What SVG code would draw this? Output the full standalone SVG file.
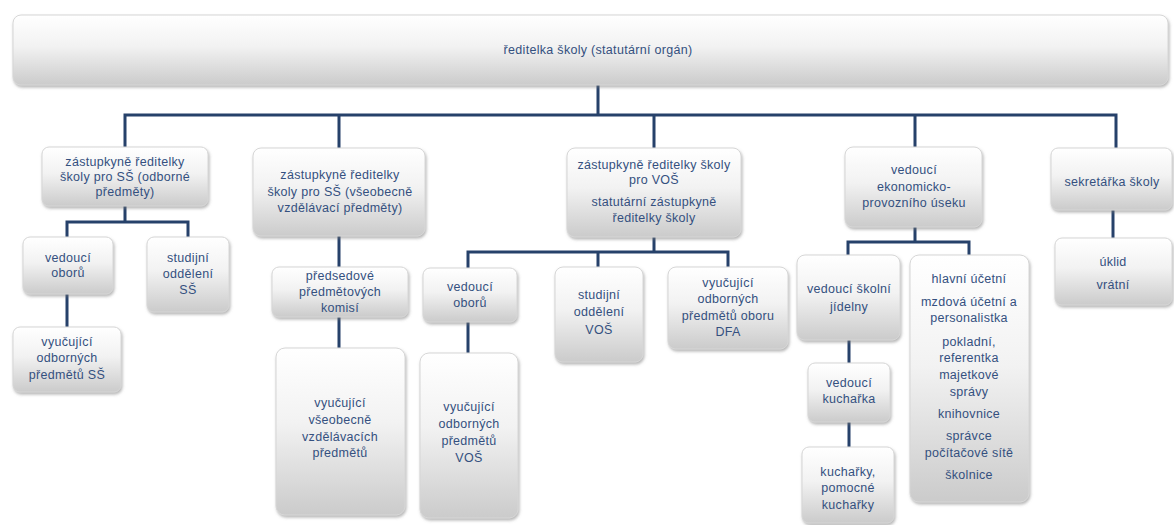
<svg xmlns="http://www.w3.org/2000/svg" width="1174" height="525" viewBox="0 0 1174 525">
<defs>
<linearGradient id="g" x1="0" y1="0" x2="0" y2="1">
<stop offset="0" stop-color="#ffffff"/>
<stop offset="0.45" stop-color="#f2f2f2"/>
<stop offset="1" stop-color="#cbcbcb"/>
</linearGradient>
<filter id="sh" x="-10%" y="-10%" width="120%" height="130%">
<feDropShadow dx="1" dy="2" stdDeviation="1.5" flood-color="#7a7a7a" flood-opacity="0.55"/>
</filter>
</defs>
<style>
.box{fill:url(#g);stroke:#d6d6d6;stroke-width:1;filter:url(#sh)}
.t{font-family:"Liberation Sans",Arial,sans-serif;font-size:12.5px;letter-spacing:0.3px;fill:#34507f;text-anchor:middle;dominant-baseline:central}
.c{stroke:#26416a;stroke-width:3;fill:none;stroke-linecap:square}
</style>
<rect width="1174" height="525" fill="#ffffff"/>
<g id="connectors">
<path class="c" d="M598 86V115M125 115H1116M125 115V146M339 115V147M654 115V147M915 115V146M1116 115V147"/>
<path class="c" d="M125 207V222M67 222H188M67 222V236M188 222V236M67 295V326"/>
<path class="c" d="M339 237V266M339 318V347"/>
<path class="c" d="M654 238V252M468 252H728M468 252V267M598 252V266M728 252V266M468 323V352"/>
<path class="c" d="M915 228V242M848 242H969M848 242V254M969 242V254M849 341V362M849 423V446"/>
<path class="c" d="M1113 211V237"/>
</g>
<g id="root">
<rect class="box" x="13" y="15" width="1155" height="70" rx="8"/>
<text class="t" x="598" y="50">ředitelka školy (statutární orgán)</text>
</g>
<g id="n1">
<rect class="box" x="42" y="147" width="166" height="59" rx="7"/>
<text class="t" x="125" y="162">zástupkyně ředitelky</text>
<text class="t" x="125" y="177">školy pro SŠ (odborné</text>
<text class="t" x="125" y="192">předměty)</text>
</g>
<g id="n1a">
<rect class="box" x="23" y="237" width="90" height="57" rx="7"/>
<text class="t" x="68" y="258">vedoucí</text>
<text class="t" x="68" y="273">oborů</text>
</g>
<g id="n1b">
<rect class="box" x="147" y="237" width="82" height="75" rx="7"/>
<text class="t" x="188" y="258">studijní</text>
<text class="t" x="188" y="274">oddělení</text>
<text class="t" x="188" y="290">SŠ</text>
</g>
<g id="n1c">
<rect class="box" x="13" y="327" width="108" height="65" rx="7"/>
<text class="t" x="67" y="342">vyučující</text>
<text class="t" x="67" y="358">odborných</text>
<text class="t" x="67" y="375">předmětů SŠ</text>
</g>
<g id="n2">
<rect class="box" x="253" y="148" width="172" height="88" rx="8"/>
<text class="t" x="340" y="175">zástupkyně ředitelky</text>
<text class="t" x="340" y="192">školy pro SŠ (všeobecně</text>
<text class="t" x="340" y="208">vzdělávací předměty)</text>
</g>
<g id="n2a">
<rect class="box" x="272" y="267" width="136" height="50" rx="7"/>
<text class="t" x="340" y="276">předsedové</text>
<text class="t" x="340" y="292">předmětových</text>
<text class="t" x="340" y="308">komisí</text>
</g>
<g id="n2b">
<rect class="box" x="276" y="348" width="129" height="167" rx="9"/>
<text class="t" x="340" y="403">vyučující</text>
<text class="t" x="340" y="420">všeobecně</text>
<text class="t" x="340" y="437">vzdělávacích</text>
<text class="t" x="340" y="453">předmětů</text>
</g>
<g id="n3">
<rect class="box" x="567" y="148" width="174" height="89" rx="8"/>
<text class="t" x="654" y="165">zástupkyně ředitelky školy</text>
<text class="t" x="654" y="180">pro VOŠ</text>
<text class="t" x="654" y="202">statutární zástupkyně</text>
<text class="t" x="654" y="218">ředitelky školy</text>
</g>
<g id="n3a">
<rect class="box" x="423" y="268" width="94" height="54" rx="7"/>
<text class="t" x="470" y="287">vedoucí</text>
<text class="t" x="470" y="303">oborů</text>
</g>
<g id="n3b">
<rect class="box" x="420" y="353" width="98" height="165" rx="9"/>
<text class="t" x="469" y="407">vyučující</text>
<text class="t" x="469" y="424">odborných</text>
<text class="t" x="469" y="441">předmětů</text>
<text class="t" x="469" y="458">VOŠ</text>
</g>
<g id="n3c">
<rect class="box" x="555" y="267" width="88" height="95" rx="8"/>
<text class="t" x="599" y="295">studijní</text>
<text class="t" x="599" y="312">oddělení</text>
<text class="t" x="599" y="330">VOŠ</text>
</g>
<g id="n3d">
<rect class="box" x="668" y="267" width="120" height="82" rx="8"/>
<text class="t" x="728" y="283">vyučující</text>
<text class="t" x="728" y="299">odborných</text>
<text class="t" x="728" y="316">předmětů oboru</text>
<text class="t" x="728" y="332">DFA</text>
</g>
<g id="n4">
<rect class="box" x="845" y="147" width="137" height="80" rx="8"/>
<text class="t" x="914" y="170">vedoucí</text>
<text class="t" x="914" y="187">ekonomicko-</text>
<text class="t" x="914" y="203">provozního úseku</text>
</g>
<g id="n4a">
<rect class="box" x="797" y="255" width="103" height="85" rx="8"/>
<text class="t" x="849" y="289">vedoucí školní</text>
<text class="t" x="849" y="307">jídelny</text>
</g>
<g id="n4a1">
<rect class="box" x="808" y="363" width="82" height="59" rx="7"/>
<text class="t" x="849" y="383">vedoucí</text>
<text class="t" x="849" y="399">kuchařka</text>
</g>
<g id="n4a2">
<rect class="box" x="802" y="447" width="92" height="76" rx="7"/>
<text class="t" x="848" y="472">kuchařky,</text>
<text class="t" x="848" y="488">pomocné</text>
<text class="t" x="848" y="505">kuchařky</text>
</g>
<g id="n4b">
<rect class="box" x="910" y="255" width="119" height="247" rx="9"/>
<text class="t" x="969" y="279">hlavní účetní</text>
<text class="t" x="969" y="302">mzdová účetní a</text>
<text class="t" x="969" y="318">personalistka</text>
<text class="t" x="969" y="342">pokladní,</text>
<text class="t" x="969" y="358">referentka</text>
<text class="t" x="969" y="375">majetkové</text>
<text class="t" x="969" y="392">správy</text>
<text class="t" x="969" y="414">knihovnice</text>
<text class="t" x="969" y="436">správce</text>
<text class="t" x="969" y="453">počítačové sítě</text>
<text class="t" x="969" y="475">školnice</text>
</g>
<g id="n5">
<rect class="box" x="1051" y="148" width="121" height="62" rx="7"/>
<text class="t" x="1112" y="182">sekretářka školy</text>
</g>
<g id="n5a">
<rect class="box" x="1055" y="238" width="117" height="67" rx="7"/>
<text class="t" x="1113" y="262">úklid</text>
<text class="t" x="1113" y="285">vrátní</text>
</g>
</svg>
